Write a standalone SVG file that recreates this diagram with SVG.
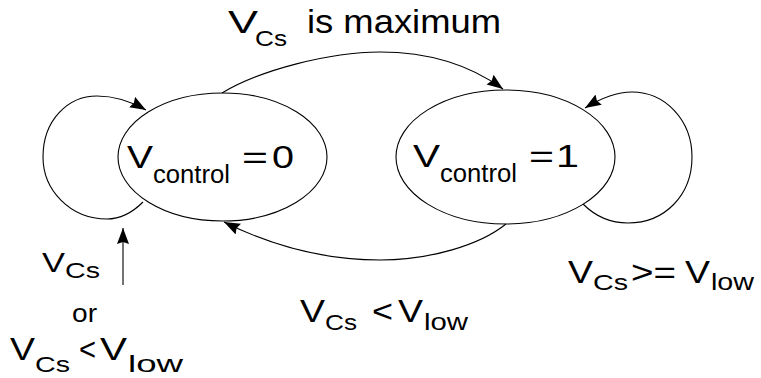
<svg xmlns="http://www.w3.org/2000/svg" width="761" height="378" viewBox="0 0 761 378">
<style>
.n{fill:none;stroke:#000;stroke-width:1.1}
.c{fill:none;stroke:#000;stroke-width:1.1;marker-end:url(#ah)}
text{font-family:"Liberation Sans",Arial,sans-serif;fill:#000}
.b{font-size:32px}
.s{font-size:22px}
.t{font-size:26px}
</style>
<defs>
<marker id="ah" markerUnits="userSpaceOnUse" markerWidth="18" markerHeight="14" refX="16" refY="6" orient="auto">
<path d="M0,0 L16,6 L0,12 L2,6 z" fill="#000"/>
</marker>
</defs>
<rect width="761" height="378" fill="#fff"/>
<g id="state0">
<ellipse class="n" cx="222.5" cy="157" rx="104.5" ry="64"/>
<text class="b" x="127" y="168" textLength="26" lengthAdjust="spacingAndGlyphs">V</text>
<text class="t" x="153" y="183" textLength="77" lengthAdjust="spacingAndGlyphs">control</text>
<text class="b" x="242" y="168" textLength="26" lengthAdjust="spacingAndGlyphs">=</text>
<text class="b" x="272" y="168" textLength="22" lengthAdjust="spacingAndGlyphs">0</text>
</g>
<g id="state1">
<ellipse class="n" cx="505.5" cy="157" rx="109.5" ry="67"/>
<text class="b" x="413" y="167" textLength="27" lengthAdjust="spacingAndGlyphs">V</text>
<text class="t" x="440" y="182" textLength="77" lengthAdjust="spacingAndGlyphs">control</text>
<text class="b" x="529" y="167" textLength="25" lengthAdjust="spacingAndGlyphs">=</text>
<text class="b" x="556" y="167" textLength="23" lengthAdjust="spacingAndGlyphs">1</text>
</g>
<g id="connectors">
<path class="c" d="M222,93 C260,70 330,52 380,52 C430,52 470,65 503,89"/>
<path class="c" d="M506,224 C480,245 430,260 380,260 C320,260 270,245 224,222"/>
<path class="c" d="M143,202 C130,215 118,219 107,219 C70,219 43,190 43,157 C43,120 68,96 97,96 C115,96 132,102 146,110"/>
<path class="c" d="M583,204 C595,216 610,223 628,223 C665,223 692,195 692,157 C692,120 665,92 632,92 C615,92 598,100 585,108"/>
<path class="c" d="M123,285 L123,228"/>
</g>
<g id="label-top">
<text class="b" x="228" y="33" textLength="30" lengthAdjust="spacingAndGlyphs">V</text>
<text class="s" x="255" y="46" textLength="32" lengthAdjust="spacingAndGlyphs">Cs</text>
<text x="307" y="33" textLength="194" lengthAdjust="spacingAndGlyphs" style="font-size:33px">is maximum</text>
</g>
<g id="label-bottom">
<text class="b" x="300" y="322" textLength="25" lengthAdjust="spacingAndGlyphs">V</text>
<text class="s" x="325" y="330" textLength="32" lengthAdjust="spacingAndGlyphs">Cs</text>
<text class="b" x="372" y="322" textLength="21" lengthAdjust="spacingAndGlyphs">&lt;</text>
<text class="b" x="398" y="322" textLength="25" lengthAdjust="spacingAndGlyphs">V</text>
<text x="424" y="330" textLength="44" lengthAdjust="spacingAndGlyphs" style="font-size:24px">low</text>
</g>
<g id="label-right">
<text class="b" x="568" y="283" textLength="25" lengthAdjust="spacingAndGlyphs">V</text>
<text class="s" x="593" y="290" textLength="35" lengthAdjust="spacingAndGlyphs">Cs</text>
<text class="b" x="631" y="283" textLength="45" lengthAdjust="spacingAndGlyphs">&gt;=</text>
<text class="b" x="685" y="283" textLength="25" lengthAdjust="spacingAndGlyphs">V</text>
<text x="711" y="290" textLength="43" lengthAdjust="spacingAndGlyphs" style="font-size:24px">low</text>
</g>
<g id="label-left">
<text x="42" y="272" textLength="23" lengthAdjust="spacingAndGlyphs" style="font-size:28px">V</text>
<text class="s" x="65" y="278" textLength="35" lengthAdjust="spacingAndGlyphs">Cs</text>
<text class="t" x="72" y="322" textLength="25" lengthAdjust="spacingAndGlyphs">or</text>
<text class="b" x="10" y="360" textLength="25" lengthAdjust="spacingAndGlyphs">V</text>
<text class="s" x="35" y="372" textLength="35" lengthAdjust="spacingAndGlyphs">Cs</text>
<text class="b" x="79" y="360" textLength="17" lengthAdjust="spacingAndGlyphs">&lt;</text>
<text class="b" x="100" y="360" textLength="27" lengthAdjust="spacingAndGlyphs">V</text>
<text x="128" y="372" textLength="55" lengthAdjust="spacingAndGlyphs" style="font-size:24px">low</text>
</g>
</svg>
